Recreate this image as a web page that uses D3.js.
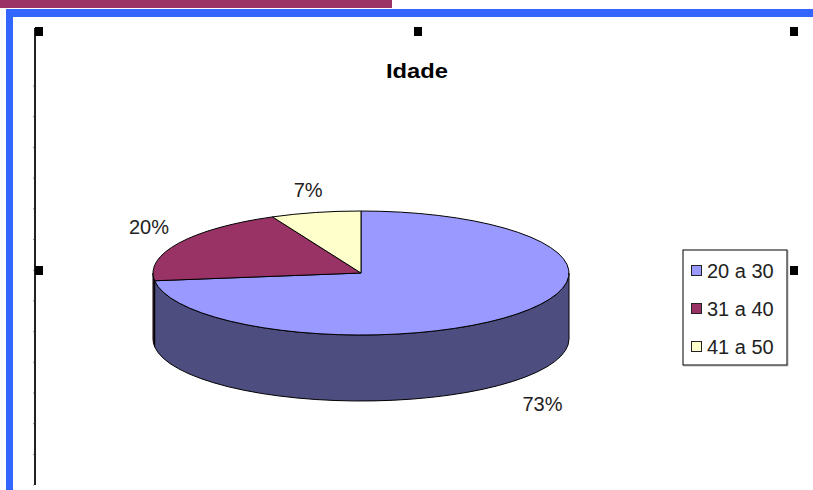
<!DOCTYPE html>
<html>
<head>
<meta charset="utf-8">
<script src="https://cdn.jsdelivr.net/npm/d3@7"></script>
<style>
  html, body { margin: 0; padding: 0; background: #ffffff; }
  svg { display: block; }
  text { font-family: "Liberation Sans", Arial, sans-serif; }
</style>
</head>
<body>
<svg id="chart" width="813" height="490"></svg>
<script>
// Age groups and their share of respondents (percent)
const categories = ["20 a 30", "31 a 40", "41 a 50"];
const values = [73, 20, 7];
const valueLabels = ["73%", "20%", "7%"];
const topColors = ["#9999ff", "#993366", "#ffffcc"];
const sideColors = ["#4d4d80", "#4d1a33", "#80805f"];
const title = "Idade";

const W = 813, H = 490;
const svg = d3.select("#chart");

// Slide decoration: maroon strip and blue frame
svg.append("rect").attr("x", 0).attr("y", 0).attr("width", 392).attr("height", 8).attr("fill", "#9b3366");
svg.append("rect").attr("x", 6).attr("y", 9).attr("width", W - 6).attr("height", 8).attr("fill", "#3366ff");
svg.append("rect").attr("x", 6).attr("y", 9).attr("width", 7).attr("height", H - 9).attr("fill", "#3366ff");

// Left ruler line with small tick marks
const ruler = svg.append("g");
ruler.append("line").attr("x1", 35).attr("x2", 35).attr("y1", 28).attr("y2", 485)
  .attr("stroke", "#222").attr("stroke-width", 2);
const tickY = d3.range(86, 486, 30.7);
ruler.selectAll("line.tick").data(tickY).join("line").attr("class", "tick")
  .attr("x1", 33).attr("x2", 34).attr("y1", d => d).attr("y2", d => d)
  .attr("stroke", "#999").attr("stroke-width", 1);

// Selection handles around the chart object
const handles = [[35, 27], [414, 27], [790, 27], [35, 266], [790, 266]];
svg.selectAll("rect.handle").data(handles).join("rect").attr("class", "handle")
  .attr("x", d => d[0]).attr("y", d => d[1]).attr("width", 8).attr("height", 9).attr("fill", "#000");

// Title
svg.append("text").attr("x", 417).attr("y", 78).attr("text-anchor", "middle")
  .attr("font-size", 21).attr("font-weight", "bold").attr("textLength", 62)
  .attr("lengthAdjust", "spacingAndGlyphs").attr("fill", "#000").text(title);

// 3D pie geometry
const cx = 361, cy = 273, rx = 208, ry = 62, depth = 66;
const pie = d3.pie().sort(null).value(d => d);
const arcs = pie(values);
const color = d3.scaleOrdinal().domain(categories).range(topColors);
const sideColor = d3.scaleOrdinal().domain(categories).range(sideColors);

const pt = (a, dy = 0) => [cx + rx * Math.sin(a), cy - ry * Math.cos(a) + dy];
const fmt = p => p[0].toFixed(2) + "," + p[1].toFixed(2);

function sidePath(a0, a1) {
  // only the front half of the rim (between 90° and 270°) is visible
  const s = Math.max(a0, Math.PI / 2), e = Math.min(a1, 3 * Math.PI / 2);
  if (e <= s) return null;
  const large = (e - s) > Math.PI ? 1 : 0;
  return "M" + fmt(pt(s)) +
    "A" + rx + "," + ry + " 0 " + large + " 1 " + fmt(pt(e)) +
    "L" + fmt(pt(e, depth)) +
    "A" + rx + "," + ry + " 0 " + large + " 0 " + fmt(pt(s, depth)) + "Z";
}
function topPath(a0, a1) {
  const large = (a1 - a0) > Math.PI ? 1 : 0;
  return "M" + cx + "," + cy + "L" + fmt(pt(a0)) +
    "A" + rx + "," + ry + " 0 " + large + " 1 " + fmt(pt(a1)) + "Z";
}

const pieG = svg.append("g");
pieG.selectAll("path.side").data(arcs.filter(d => sidePath(d.startAngle, d.endAngle)))
  .join("path").attr("class", "side")
  .attr("d", d => sidePath(d.startAngle, d.endAngle))
  .attr("fill", d => sideColor(categories[d.index]))
  .attr("stroke", "#000").attr("stroke-width", 1).attr("stroke-linejoin", "round");
pieG.selectAll("path.top").data(arcs).join("path").attr("class", "top")
  .attr("d", d => topPath(d.startAngle, d.endAngle))
  .attr("fill", d => color(categories[d.index]))
  .attr("stroke", "#000").attr("stroke-width", 1).attr("stroke-linejoin", "round");

// Percentage labels placed outside the pie; front labels sit below the rim
const lrx = 242, lry = 76, lblShift = -9, frontGap = 24;
svg.selectAll("text.pct").data(arcs).join("text").attr("class", "pct")
  .attr("x", d => { const m = (d.startAngle + d.endAngle) / 2; return cx + lrx * Math.sin(m); })
  .attr("y", d => {
    const m = (d.startAngle + d.endAngle) / 2;
    return cy + lblShift - lry * Math.cos(m) + (Math.cos(m) < 0 ? depth + frontGap : 0);
  })
  .attr("text-anchor", "middle").attr("dominant-baseline", "central")
  .attr("font-size", 20).attr("fill", "#222")
  .text((d, i) => valueLabels[i]);

// Legend
const lg = svg.append("g");
const lgX = 683, lgY = 250, lgW = 104, lgH = 115;
lg.append("rect").attr("x", lgX + 1).attr("y", lgY + 1).attr("width", lgW).attr("height", lgH)
  .attr("fill", "none").attr("stroke", "#bbb");
lg.append("rect").attr("x", lgX).attr("y", lgY).attr("width", lgW).attr("height", lgH)
  .attr("fill", "#fff").attr("stroke", "#000");
const rowY = d3.scalePoint().domain(categories).range([lgY + 21, lgY + 97]);
const rows = lg.selectAll("g.row").data(categories).join("g").attr("class", "row")
  .attr("transform", d => `translate(${lgX + 8},${rowY(d)})`);
rows.append("rect").attr("x", 0.5).attr("y", -5.5).attr("width", 10).attr("height", 10)
  .attr("fill", d => color(d)).attr("stroke", "#222");
rows.append("text").attr("x", 16).attr("y", 7).attr("font-size", 20).attr("fill", "#222")
  .text(d => d);
</script>
</body>
</html>
